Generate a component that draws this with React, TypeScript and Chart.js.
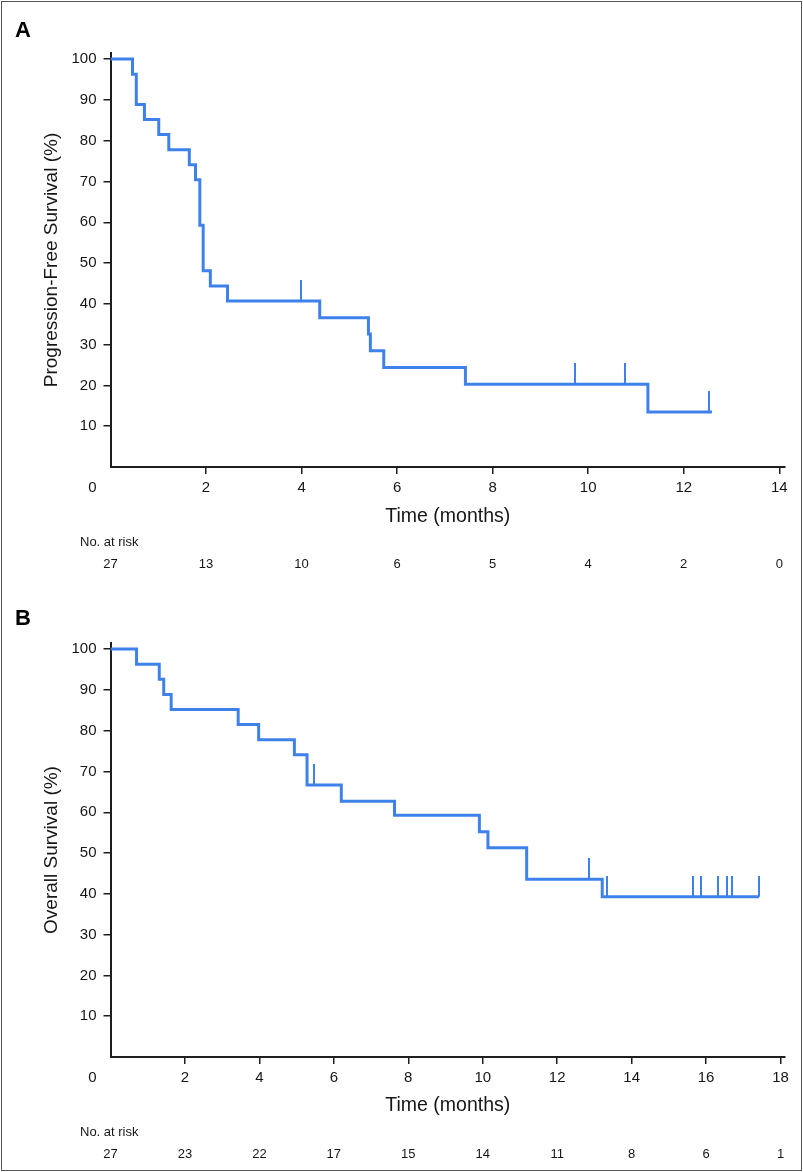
import React, { useEffect, useRef } from 'react';
import { Chart, registerables } from 'chart.js';

Chart.register(...registerables);

// ---------- Panel A: progression-free survival ----------
const pfsTimes = [0, 0.46, 0.54, 0.71, 1.01, 1.22, 1.65, 1.78, 1.87, 1.94, 2.09, 2.45, 4.38, 5.4, 5.44, 5.72, 7.43, 11.25, 12.59];
const pfsSurvival = [100, 96.3, 88.9, 85.2, 81.5, 77.8, 74.1, 70.4, 59.3, 48.1, 44.4, 40.7, 36.6, 32.6, 28.5, 24.4, 20.3, 13.5, 13.5];
const pfsCensorTimes = [3.98, 9.72, 10.78, 12.52];
const pfsCensorSurvival = [40.7, 20.3, 20.3, 13.5];
const pfsXTicks = [2, 4, 6, 8, 10, 12, 14];
const pfsRiskTimes = [0, 2, 4, 6, 8, 10, 12, 14];
const pfsAtRisk = [27, 13, 10, 6, 5, 4, 2, 0];

// ---------- Panel B: overall survival ----------
const osTimes = [0, 0.7, 1.31, 1.43, 1.63, 3.43, 3.98, 4.94, 5.28, 6.2, 7.63, 9.91, 10.14, 11.18, 13.21, 17.42];
const osSurvival = [100, 96.3, 92.6, 88.9, 85.2, 81.5, 77.8, 74.1, 66.7, 62.7, 59.3, 55.2, 51.3, 43.6, 39.3, 39.3];
const osCensorTimes = [5.48, 12.85, 13.35, 15.65, 15.85, 16.32, 16.56, 16.7, 17.42];
const osCensorSurvival = [66.7, 43.6, 39.3, 39.3, 39.3, 39.3, 39.3, 39.3, 39.3];
const osXTicks = [2, 4, 6, 8, 10, 12, 14, 16, 18];
const osRiskTimes = [0, 2, 4, 6, 8, 10, 12, 14, 16, 18];
const osAtRisk = [27, 23, 22, 17, 15, 14, 11, 8, 6, 1];

const yTicks = [10, 20, 30, 40, 50, 60, 70, 80, 90, 100];

const FONT = '"Liberation Sans", Arial, Helvetica, sans-serif';
const BLUE = '#3f81ea';
const INK = '#161616';
const AXIS = '#1e1e1e';
const W = 803;
const H = 586;

type PanelProps = {
  letter: string;
  yTitle: string;
  times: number[];
  surv: number[];
  censorT: number[];
  censorS: number[];
  xTicks: number[];
  riskTimes: number[];
  atRisk: number[];
  xMax: number;
  top: number;
  bottom: number;
  xTitlePad: number;
  letterY: number;
  noRiskY: number;
  riskY: number;
  offsetTop: number;
};

function KMPanel(p: PanelProps) {
  const ref = useRef<HTMLCanvasElement | null>(null);

  useEffect(() => {
    if (!ref.current) return;
    const mark = document.createElement('canvas');
    mark.width = 2;
    mark.height = 42;
    const mctx = mark.getContext('2d')!;
    mctx.fillStyle = BLUE;
    mctx.fillRect(0, 0, 2, 21);

    const annot = {
      id: 'annot',
      afterDraw(chart: any) {
        const ctx = chart.ctx;
        const x = chart.scales.x;
        ctx.save();
        ctx.fillStyle = '#000';
        ctx.font = `bold 22px ${FONT}`;
        ctx.textAlign = 'left';
        ctx.textBaseline = 'alphabetic';
        ctx.fillText(p.letter, 15, p.letterY);

        ctx.fillStyle = INK;
        ctx.font = `15px ${FONT}`;
        ctx.textAlign = 'center';
        ctx.textBaseline = 'middle';
        ctx.fillText('0', x.getPixelForValue(0) - 18, x.top + 7 + 5 + 9);

        ctx.font = `13px ${FONT}`;
        ctx.textAlign = 'left';
        ctx.fillText('No. at risk', 80, p.noRiskY);
        ctx.textAlign = 'center';
        p.riskTimes.forEach((t, i) => {
          ctx.fillText(String(p.atRisk[i]), x.getPixelForValue(t), p.riskY);
        });
        ctx.restore();
      },
    };

    const chart = new Chart(ref.current, {
      type: 'line',
      data: {
        datasets: [
          {
            type: 'line',
            data: p.times.map((t, i) => ({ x: t, y: p.surv[i] })),
            borderColor: BLUE,
            borderWidth: 3,
            pointRadius: 0,
            fill: false,
            stepped: 'before',
            borderJoinStyle: 'miter',
          } as any,
          {
            type: 'scatter',
            data: p.censorT.map((t, i) => ({ x: t, y: p.censorS[i] })),
            pointStyle: mark,
            pointRadius: 10,
            showLine: false,
          } as any,
        ],
      },
      options: {
        responsive: false,
        animation: false,
        events: [],
        layout: { padding: { left: 0, right: W - 785, top: p.top, bottom: 0 } },
        plugins: { legend: { display: false }, tooltip: { enabled: false } },
        scales: {
          x: {
            type: 'linear',
            min: 0,
            max: p.xMax,
            afterBuildTicks: (s: any) => {
              s.ticks = p.xTicks.map((v) => ({ value: v }));
            },
            afterFit: (s: any) => {
              s.height = H - p.bottom;
              s.paddingLeft = 0;
              s.paddingRight = 0;
            },
            grid: { display: true, drawOnChartArea: false, drawTicks: true, tickLength: 7, tickColor: AXIS, lineWidth: 1.5 },
            border: { display: true, color: AXIS, width: 2 },
            ticks: { font: { family: FONT, size: 15 }, color: INK, padding: 5, maxRotation: 0, autoSkip: false },
            title: {
              display: true,
              text: 'Time (months)',
              font: { family: FONT, size: 19.5 },
              color: INK,
              padding: { top: 0, bottom: p.xTitlePad },
            },
          },
          y: {
            type: 'linear',
            min: 0,
            max: 101.5,
            afterBuildTicks: (s: any) => {
              s.ticks = yTicks.map((v) => ({ value: v }));
            },
            afterFit: (s: any) => {
              s.width = 110.5;
              s.paddingTop = 0;
              s.paddingBottom = 0;
            },
            grid: { display: true, drawOnChartArea: false, drawTicks: true, tickLength: 7, tickColor: AXIS, lineWidth: 1.5 },
            border: { display: true, color: AXIS, width: 2 },
            ticks: { font: { family: FONT, size: 15 }, color: INK, padding: 7 },
            title: {
              display: true,
              text: p.yTitle,
              font: { family: FONT, size: 19 },
              color: INK,
              padding: { top: 40.6, bottom: 0 },
            },
          },
        },
      } as any,
      plugins: [annot],
    });
    return () => chart.destroy();
  }, []);

  return (
    <canvas
      ref={ref}
      width={W}
      height={H}
      style={{ position: 'absolute', left: 0, top: p.offsetTop, display: 'block', width: W, height: H }}
    />
  );
}

export default function App() {
  return (
    <div style={{ position: 'absolute', left: 0, top: 0, width: W, height: 1172, background: '#fff', overflow: 'hidden' }}>
      <KMPanel
        letter="A"
        yTitle="Progression-Free Survival (%)"
        times={pfsTimes}
        surv={pfsSurvival}
        censorT={pfsCensorTimes}
        censorS={pfsCensorSurvival}
        xTicks={pfsXTicks}
        riskTimes={pfsRiskTimes}
        atRisk={pfsAtRisk}
        xMax={14.12}
        top={53}
        bottom={467}
        xTitlePad={57.6}
        letterY={37}
        noRiskY={542.7}
        riskY={564}
        offsetTop={0}
      />
      <KMPanel
        letter="B"
        yTitle="Overall Survival (%)"
        times={osTimes}
        surv={osSurvival}
        censorT={osCensorTimes}
        censorS={osCensorSurvival}
        xTicks={osXTicks}
        riskTimes={osRiskTimes}
        atRisk={osAtRisk}
        xMax={18.12}
        top={57}
        bottom={471}
        xTitlePad={54.3}
        letterY={39}
        noRiskY={546}
        riskY={568}
        offsetTop={586}
      />
      <div
        style={{
          position: 'absolute',
          left: 1,
          top: 1,
          width: 801,
          height: 1170,
          border: '1px solid #555',
          boxSizing: 'border-box',
          pointerEvents: 'none',
        }}
      />
    </div>
  );
}
